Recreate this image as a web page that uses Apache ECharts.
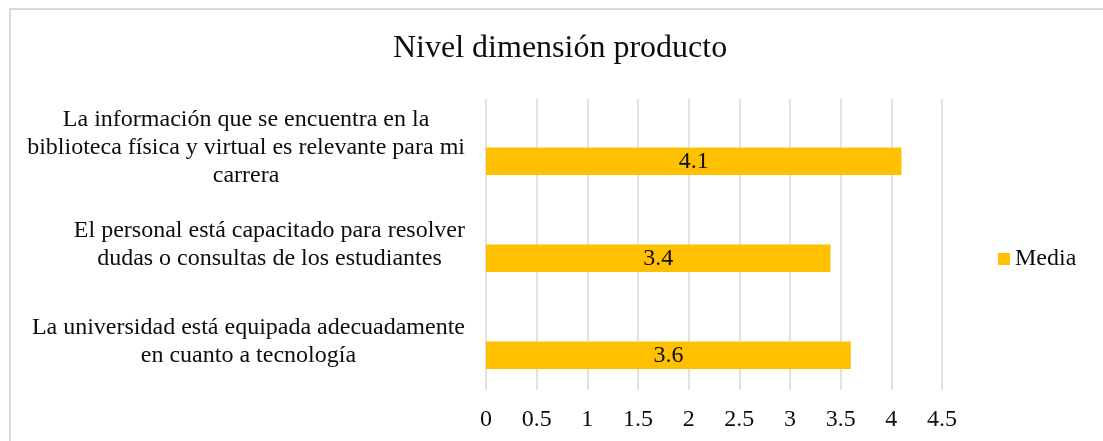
<!DOCTYPE html>
<html>
<head>
<meta charset="utf-8">
<script src="https://cdn.jsdelivr.net/npm/echarts@6/dist/echarts.min.js"></script>
<style>
  html, body { margin: 0; padding: 0; background: #ffffff; }
  #chart { width: 1103px; height: 441px; }
</style>
</head>
<body>
<div id="chart"></div>
<script>
// Categories listed bottom to top (category axis starts at the bottom)
const categories = [
  'La universidad está equipada adecuadamente\nen cuanto a tecnología',
  'El personal está capacitado para resolver\ndudas o consultas de los estudiantes',
  'La información que se encuentra en la\nbiblioteca física y virtual es relevante para mi\ncarrera'
];
const mediaValues = [3.6, 3.4, 4.1];
const seriesName = 'Media';
const titleText = 'Nivel dimensión producto';

const FONT = "'Liberation Serif', 'Times New Roman', serif";
const TEXT = '#0d0d0d';

const chart = echarts.init(document.getElementById('chart'), null, { renderer: 'canvas' });

chart.setOption({
  backgroundColor: '#ffffff',
  animation: false,
  title: {
    text: titleText,
    left: 393,
    top: 33,
    padding: 0,
    textStyle: { fontFamily: FONT, fontSize: 32, fontWeight: 'normal', color: TEXT }
  },
  graphic: [{
    type: 'rect',
    silent: true,
    shape: { x: 10, y: 9, width: 3000, height: 3000 },
    style: { fill: 'none', stroke: '#d9d9d9', lineWidth: 2 }
  }],
  legend: {
    data: [seriesName],
    left: 998,
    top: 247,
    padding: 0,
    icon: 'rect',
    itemWidth: 12,
    itemHeight: 12,
    itemGap: 5,
    textStyle: { fontFamily: FONT, fontSize: 24, color: TEXT, padding: [0, 0, 0, 0] }
  },
  grid: { left: 486, right: 161, top: 99, bottom: 51, containLabel: false },
  xAxis: {
    type: 'value',
    min: 0,
    max: 4.5,
    interval: 0.5,
    axisLine: { show: false },
    axisTick: { show: false },
    splitLine: { show: true, lineStyle: { color: '#d9d9d9', width: 1.5 } },
    axisLabel: { fontFamily: FONT, fontSize: 24, color: TEXT, margin: 18 }
  },
  yAxis: {
    type: 'category',
    data: categories,
    axisLine: { show: false },
    axisTick: { show: false },
    splitLine: { show: false },
    axisLabel: {
      align: 'right',
      margin: 21,
      formatter: function (v) {
        return v.split('\n').map(function (l) { return '{c|' + l + '}'; }).join('\n');
      },
      rich: {
        c: { align: 'center', fontFamily: FONT, fontSize: 24, lineHeight: 28, color: TEXT }
      }
    }
  },
  series: [
    {
      // empty companion slot that shares each band with the Media bar
      name: '_slot',
      type: 'bar',
      data: categories.map(function () { return null; }),
      barWidth: 27.5,
      barGap: '0%',
      silent: true
    },
    {
      name: seriesName,
      type: 'bar',
      data: mediaValues,
      barWidth: 27.5,
      barGap: '0%',
      itemStyle: { color: '#FFC000' },
      label: {
        show: true,
        position: 'inside',
        fontFamily: FONT,
        fontSize: 24,
        color: TEXT
      }
    }
  ]
});
</script>
</body>
</html>
